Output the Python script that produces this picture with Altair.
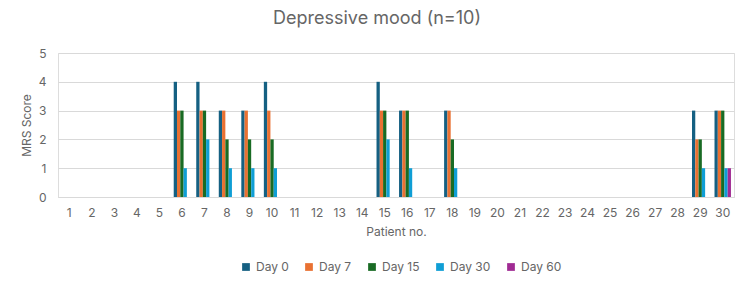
import altair as alt
import pandas as pd

# Patients and MRS scores at each visit
patients = [6, 7, 8, 9, 10, 15, 16, 18, 29, 30]
day0 = [4, 4, 3, 3, 4, 4, 3, 3, 3, 3]
day7 = [3, 3, 3, 3, 3, 3, 3, 3, 2, 3]
day15 = [3, 3, 2, 2, 2, 3, 3, 2, 2, 3]
day30 = [1, 2, 1, 1, 1, 2, 1, 1, 1, 1]
day60 = [0, 0, 0, 0, 0, 0, 0, 0, 0, 1]

all_patients = [str(i) for i in range(1, 31)]
series_names = ["Day 0", "Day 7", "Day 15", "Day 30", "Day 60"]
series_colors = ["#156082", "#E97132", "#196B24", "#0F9ED5", "#A02B93"]

rows = []
for name, vals in zip(series_names, [day0, day7, day15, day30, day60]):
    for p, v in zip(patients, vals):
        rows.append({"patient": str(p), "visit": name, "score": v})
df = pd.DataFrame(rows)

FONT = "Inter"
GREY = "#666666"

chart = (
    alt.Chart(df)
    .mark_bar()
    .encode(
        x=alt.X(
            "patient:N",
            sort=all_patients,
            scale=alt.Scale(domain=all_patients, paddingInner=0.27, paddingOuter=0.135),
            axis=alt.Axis(
                title="Patient no.",
                labelAngle=0,
                ticks=False,
                grid=False,
                domainColor="#d9d9d9",
                labelPadding=10,
                titlePadding=8,
            ),
        ),
        xOffset=alt.XOffset(
            "visit:N", sort=series_names, scale=alt.Scale(domain=series_names, paddingInner=0, paddingOuter=0)
        ),
        y=alt.Y(
            "score:Q",
            scale=alt.Scale(domain=[0, 5]),
            axis=alt.Axis(
                title="MRS Score",
                values=[0, 1, 2, 3, 4, 5],
                ticks=False,
                domain=False,
                labelPadding=12,
                titlePadding=5,
                gridColor="#d9d9d9",
            ),
        ),
        color=alt.Color(
            "visit:N",
            sort=series_names,
            scale=alt.Scale(domain=series_names, range=series_colors),
            legend=alt.Legend(
                title=None,
                orient="none",
                direction="horizontal",
                legendX=182,
                legendY=208,
                symbolType="square",
                symbolSize=60,
                symbolStrokeWidth=0,
                columnPadding=14,
                labelFontSize=12,
                labelColor=GREY,
                labelFont=FONT,
            ),
        ),
    )
    .properties(
        width=676,
        height=144,
        title=alt.TitleParams(
            "Depressive mood (n=10)",
            fontSize=18,
            font=FONT,
            fontWeight="normal",
            color=GREY,
            anchor="middle",
            dx=-19,
            offset=19,
        ),
        autosize=alt.AutoSizeParams(type="none"),
        padding={"left": 58, "top": 53, "right": 16, "bottom": 96},
    )
    .configure_view(strokeOpacity=0, strokeWidth=0)
    .configure(background="white")
    .configure_axisX(grid=False)
    .configure_axisY(domain=False)
    .configure_axis(
        labelFont=FONT,
        titleFont=FONT,
        labelFontSize=12,
        titleFontSize=12,
        titleFontWeight="normal",
        labelColor=GREY,
        titleColor=GREY,
    )
)

chart.save("out.html", embed_options={"renderer": "svg", "actions": False})
